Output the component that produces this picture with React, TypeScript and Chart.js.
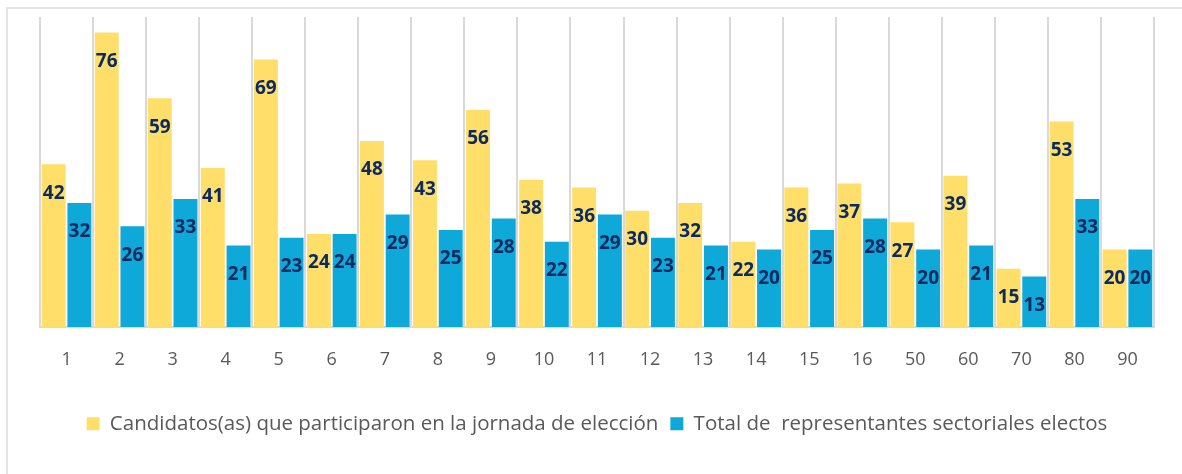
import React, { useEffect, useRef } from "react";
import { Chart, registerables } from "chart.js";

Chart.register(...registerables);

const categories = ["1", "2", "3", "4", "5", "6", "7", "8", "9", "10", "11", "12", "13", "14", "15", "16", "50", "60", "70", "80", "90"];
const candidatos = [42, 76, 59, 41, 69, 24, 48, 43, 56, 38, 36, 30, 32, 22, 36, 37, 27, 39, 15, 53, 20];
const electos = [32, 26, 33, 21, 23, 24, 29, 25, 28, 22, 29, 23, 21, 20, 25, 28, 20, 21, 13, 33, 20];
const seriesNames = [
  "Candidatos(as) que participaron en la jornada de elección",
  "Total de  representantes sectoriales electos",
];

const FONT = "'Open Sans', Lato, sans-serif";

const labelPlugin = {
  id: "barLabels",
  afterDatasetsDraw(chart: any) {
    const ctx = chart.ctx;
    ctx.save();
    ctx.font = `bold 19px ${FONT}`;
    ctx.fillStyle = "#0B2A62";
    ctx.textAlign = "center";
    ctx.textBaseline = "middle";
    chart.data.datasets.forEach((ds: any, i: number) => {
      const meta = chart.getDatasetMeta(i);
      meta.data.forEach((bar: any, j: number) => {
        ctx.fillText(String(ds.data[j]), bar.x, bar.y + 29);
      });
    });
    ctx.restore();
  },
};

export default function App() {
  const ref = useRef<HTMLCanvasElement>(null);
  useEffect(() => {
    if (!ref.current) return;
    const chart = new Chart(ref.current, {
      type: "bar",
      data: {
        labels: categories,
        datasets: [
          {
            label: seriesNames[0],
            data: candidatos,
            backgroundColor: "#FFDE6A",
            categoryPercentage: 0.97,
            barPercentage: 0.93,
          },
          {
            label: seriesNames[1],
            data: electos,
            backgroundColor: "#0EA9D9",
            categoryPercentage: 0.97,
            barPercentage: 0.93,
          },
        ],
      },
      options: {
        animation: false,
        responsive: false,
        maintainAspectRatio: false,
        layout: { padding: { left: 40, right: 28, top: 17, bottom: 30 } },
        plugins: {
          tooltip: { enabled: false },
          legend: {
            position: "bottom",
            labels: {
              boxWidth: 13,
              boxHeight: 13,
              padding: 12,
              color: "#595959",
              font: { family: FONT, size: 20.5 },
            },
          },
        },
        scales: {
          x: {
            grid: { display: true, offset: true, color: "#D9D9D9", lineWidth: 2, drawTicks: false },
            border: { display: true, color: "#D9D9D9", width: 2 },
            ticks: { color: "#595959", font: { family: FONT, size: 18 }, padding: 22, autoSkip: false, maxRotation: 0 },
            afterFit(scale: any) {
              scale.height += 9;
            },
          },
          y: {
            display: false,
            min: 0,
            max: 80,
          },
        },
      },
      plugins: [labelPlugin],
    });
    return () => chart.destroy();
  }, []);
  return (
    <div style={{ position: "fixed", left: 0, top: 0, width: 1182, height: 474, background: "#fff", overflow: "hidden" }}>
      <div style={{ position: "absolute", left: 6, top: 7, width: 1200, height: 500, border: "2px solid #E5E5E5" }} />
      <canvas ref={ref} width={1182} height={474} style={{ position: "absolute", left: 0, top: 0 }} />
    </div>
  );
}
